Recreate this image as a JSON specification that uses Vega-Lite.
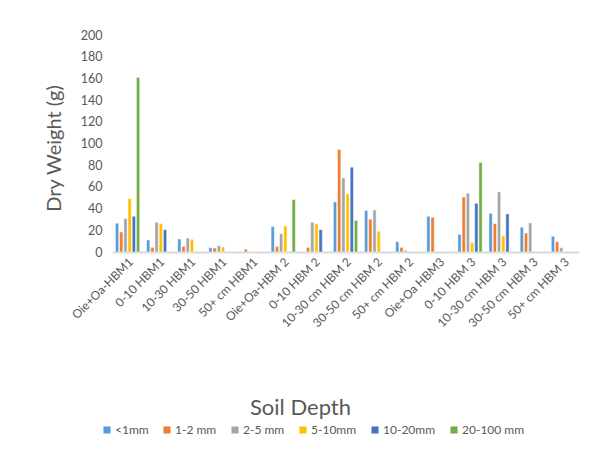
{
  "$schema": "https://vega.github.io/schema/vega-lite/v6.json",
  "autosize": {"type": "none"},
  "width": 467,
  "height": 217,
  "padding": {"left": 112, "top": 35, "right": 20, "bottom": 203},
  "background": "white",
  "config": {
    "font": "Lato",
    "view": {"stroke": null},
    "axis": {"labelColor": "#595959", "titleColor": "#595959", "titleFontWeight": "normal"}
  },
  "data": {
    "values": [
      {"depth": "Oie+Oa-HBM1", "size": "<1mm", "g": 26.5},
      {"depth": "Oie+Oa-HBM1", "size": "1-2 mm", "g": 18.5},
      {"depth": "Oie+Oa-HBM1", "size": "2-5 mm", "g": 30.8},
      {"depth": "Oie+Oa-HBM1", "size": "5-10mm", "g": 49.2},
      {"depth": "Oie+Oa-HBM1", "size": "10-20mm", "g": 32.9},
      {"depth": "Oie+Oa-HBM1", "size": "20-100 mm", "g": 160.9},
      {"depth": "0-10 HBM1", "size": "<1mm", "g": 11},
      {"depth": "0-10 HBM1", "size": "1-2 mm", "g": 4.3},
      {"depth": "0-10 HBM1", "size": "2-5 mm", "g": 27.4},
      {"depth": "0-10 HBM1", "size": "5-10mm", "g": 26.2},
      {"depth": "0-10 HBM1", "size": "10-20mm", "g": 20.6},
      {"depth": "10-30 HBM1", "size": "<1mm", "g": 12},
      {"depth": "10-30 HBM1", "size": "1-2 mm", "g": 5.2},
      {"depth": "10-30 HBM1", "size": "2-5 mm", "g": 12.9},
      {"depth": "10-30 HBM1", "size": "5-10mm", "g": 11.7},
      {"depth": "30-50 HBM1", "size": "<1mm", "g": 4},
      {"depth": "30-50 HBM1", "size": "1-2 mm", "g": 3.7},
      {"depth": "30-50 HBM1", "size": "2-5 mm", "g": 5.8},
      {"depth": "30-50 HBM1", "size": "5-10mm", "g": 4.6},
      {"depth": "50+ cm HBM1", "size": "2-5 mm", "g": 0.4},
      {"depth": "50+ cm HBM1", "size": "1-2 mm", "g": 2.5},
      {"depth": "Oie+Oa-HBM 2", "size": "<1mm", "g": 23.4},
      {"depth": "Oie+Oa-HBM 2", "size": "1-2 mm", "g": 5.2},
      {"depth": "Oie+Oa-HBM 2", "size": "2-5 mm", "g": 16.9},
      {"depth": "Oie+Oa-HBM 2", "size": "5-10mm", "g": 24},
      {"depth": "Oie+Oa-HBM 2", "size": "20-100 mm", "g": 48.3},
      {"depth": "0-10 HBM 2", "size": "1-2 mm", "g": 4.3},
      {"depth": "0-10 HBM 2", "size": "2-5 mm", "g": 27.4},
      {"depth": "0-10 HBM 2", "size": "5-10mm", "g": 26.2},
      {"depth": "0-10 HBM 2", "size": "10-20mm", "g": 20.6},
      {"depth": "10-30 cm HBM 2", "size": "<1mm", "g": 46.2},
      {"depth": "10-30 cm HBM 2", "size": "1-2 mm", "g": 94.5},
      {"depth": "10-30 cm HBM 2", "size": "2-5 mm", "g": 68.3},
      {"depth": "10-30 cm HBM 2", "size": "5-10mm", "g": 53.5},
      {"depth": "10-30 cm HBM 2", "size": "10-20mm", "g": 78.2},
      {"depth": "10-30 cm HBM 2", "size": "20-100 mm", "g": 29.2},
      {"depth": "30-50 cm HBM 2", "size": "<1mm", "g": 38.2},
      {"depth": "30-50 cm HBM 2", "size": "1-2 mm", "g": 30.2},
      {"depth": "30-50 cm HBM 2", "size": "2-5 mm", "g": 38.8},
      {"depth": "30-50 cm HBM 2", "size": "5-10mm", "g": 19.1},
      {"depth": "50+ cm HBM 2", "size": "<1mm", "g": 9.5},
      {"depth": "50+ cm HBM 2", "size": "1-2 mm", "g": 4.3},
      {"depth": "50+ cm HBM 2", "size": "2-5 mm", "g": 1.5},
      {"depth": "Oie+Oa HBM3", "size": "<1mm", "g": 32.9},
      {"depth": "Oie+Oa HBM3", "size": "1-2 mm", "g": 32},
      {"depth": "Oie+Oa HBM3", "size": "20-100 mm", "g": 0.5},
      {"depth": "0-10 HBM 3", "size": "<1mm", "g": 16.3},
      {"depth": "0-10 HBM 3", "size": "1-2 mm", "g": 50.8},
      {"depth": "0-10 HBM 3", "size": "2-5 mm", "g": 54.2},
      {"depth": "0-10 HBM 3", "size": "5-10mm", "g": 8.6},
      {"depth": "0-10 HBM 3", "size": "10-20mm", "g": 44.9},
      {"depth": "0-10 HBM 3", "size": "20-100 mm", "g": 82.5},
      {"depth": "10-30 cm HBM 3", "size": "<1mm", "g": 35.7},
      {"depth": "10-30 cm HBM 3", "size": "1-2 mm", "g": 26.2},
      {"depth": "10-30 cm HBM 3", "size": "2-5 mm", "g": 55.4},
      {"depth": "10-30 cm HBM 3", "size": "5-10mm", "g": 14.8},
      {"depth": "10-30 cm HBM 3", "size": "10-20mm", "g": 35.1},
      {"depth": "30-50 cm HBM 3", "size": "<1mm", "g": 22.8},
      {"depth": "30-50 cm HBM 3", "size": "1-2 mm", "g": 17.5},
      {"depth": "30-50 cm HBM 3", "size": "2-5 mm", "g": 26.8},
      {"depth": "50+ cm HBM 3", "size": "<1mm", "g": 14.5},
      {"depth": "50+ cm HBM 3", "size": "1-2 mm", "g": 9.5},
      {"depth": "50+ cm HBM 3", "size": "2-5 mm", "g": 4}
    ]
  },
  "mark": {"type": "bar", "stroke": "white", "strokeWidth": 0.5},
  "encoding": {
    "x": {
      "field": "depth",
      "type": "nominal",
      "sort": ["Oie+Oa-HBM1", "0-10 HBM1", "10-30 HBM1", "30-50 HBM1", "50+ cm HBM1", "Oie+Oa-HBM 2", "0-10 HBM 2", "10-30 cm HBM 2", "30-50 cm HBM 2", "50+ cm HBM 2", "Oie+Oa HBM3", "0-10 HBM 3", "10-30 cm HBM 3", "30-50 cm HBM 3", "50+ cm HBM 3"],
      "scale": {"paddingInner": 0.22, "paddingOuter": 0.11},
      "axis": {
        "title": "Soil Depth",
        "titleFontSize": 22,
        "titleX": 188,
        "titleY": 155,
        "titleAnchor": null,
        "titleBaseline": "middle",
        "labelAngle": -45,
        "labelAlign": "right",
        "labelBaseline": "top",
        "labelFontSize": 12,
        "labelPadding": 4,
        "ticks": false,
        "domainColor": "#D9D9D9",
        "domainWidth": 2
      }
    },
    "xOffset": {
      "field": "size",
      "type": "nominal",
      "sort": ["<1mm", "1-2 mm", "2-5 mm", "5-10mm", "10-20mm", "20-100 mm"],
      "scale": {"paddingInner": 0.22}
    },
    "y": {
      "field": "g",
      "type": "quantitative",
      "scale": {"domain": [0, 200], "nice": false},
      "axis": {
        "title": "Dry Weight (g)",
        "titleFontSize": 20,
        "titleAngle": -90,
        "titleAlign": "center",
        "titleBaseline": "middle",
        "titleAnchor": null,
        "titleX": -58,
        "titleY": 113,
        "values": [0, 20, 40, 60, 80, 100, 120, 140, 160, 180, 200],
        "labelFontSize": 12.5,
        "labelPadding": 10,
        "ticks": false,
        "domain": false,
        "grid": false
      }
    },
    "color": {
      "field": "size",
      "type": "nominal",
      "sort": ["<1mm", "1-2 mm", "2-5 mm", "5-10mm", "10-20mm", "20-100 mm"],
      "scale": {
        "domain": ["<1mm", "1-2 mm", "2-5 mm", "5-10mm", "10-20mm", "20-100 mm"],
        "range": ["#5B9BD5", "#ED7D31", "#A5A5A5", "#FFC000", "#4472C4", "#70AD47"]
      },
      "legend": {
        "title": null,
        "orient": "none",
        "direction": "horizontal",
        "legendX": -11,
        "legendY": 389,
        "symbolType": "square",
        "symbolSize": 50,
        "symbolStrokeWidth": 0,
        "labelFontSize": 12,
        "labelColor": "#595959",
        "labelOffset": 2,
        "columnPadding": 12
      }
    }
  }
}
